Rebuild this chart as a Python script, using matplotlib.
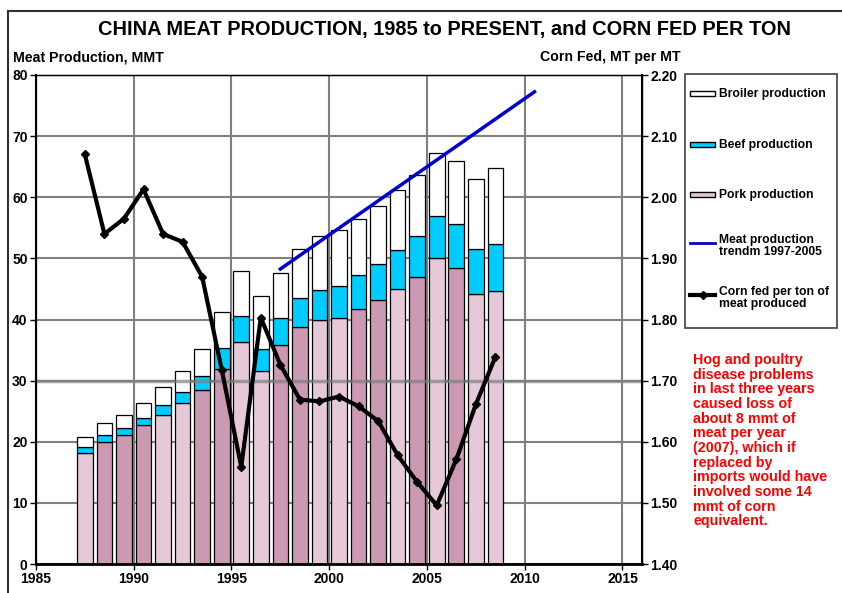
import numpy as np
import matplotlib.pyplot as plt
from matplotlib.patches import Patch, Rectangle
from matplotlib.lines import Line2D
from matplotlib.legend_handler import HandlerPatch
from matplotlib.ticker import FormatStrFormatter

plt.rcParams['font.family'] = ['Liberation Sans', 'DejaVu Sans']
plt.rcParams['font.weight'] = 'bold'

# data (MMT, and MT corn per MT meat)
years = np.arange(1987, 2009)
pork = [18.2, 20.0, 21.1, 22.7, 24.4, 26.3, 28.4, 31.9, 36.3, 31.5, 35.8,
        38.7, 40.0, 40.2, 41.7, 43.2, 45.0, 46.9, 50.0, 48.5, 44.1, 44.6]
beef = [0.9, 1.1, 1.1, 1.2, 1.6, 1.8, 2.4, 3.4, 4.2, 3.6, 4.4,
        4.8, 4.9, 5.2, 5.5, 5.8, 6.3, 6.7, 7.0, 7.1, 7.4, 7.7]
broiler = [1.6, 2.0, 2.2, 2.5, 3.0, 3.4, 4.4, 5.9, 7.5, 8.7, 7.4,
           8.1, 8.7, 9.3, 9.3, 9.5, 9.9, 10.0, 10.3, 10.4, 11.5, 12.5]
corn_fed = [2.07, 1.94, 1.965, 2.013, 1.94, 1.927, 1.87, 1.718, 1.559, 1.803, 1.726,
            1.669, 1.666, 1.674, 1.658, 1.634, 1.578, 1.534, 1.496, 1.571, 1.661, 1.739]
trend_fit = (1997, 2005)
trend_span = (1997, 2010)

note = ("Hog and poultry\ndisease problems\nin last three years\ncaused loss of\n"
        "about 8 mmt of\nmeat per year\n(2007), which if\nreplaced by\n"
        "imports would have\ninvolved some 14\nmmt of corn\nequivalent.")

# colours
c_broiler = 'white'
c_beef = '#00CCFF'
c_pork_l = '#E6C9D8'
c_pork_d = '#CC99B3'
pork_shade = 'LDDDLLDDLLDDLLDDLDLDLL'
pork_colors = [c_pork_l if s == 'L' else c_pork_d for s in pork_shade]

pork = np.array(pork)
beef = np.array(beef)
broiler = np.array(broiler)
total = pork + beef + broiler
x = years + 0.5

fig = plt.figure(figsize=(8.42, 5.93), dpi=100)
ax = fig.add_axes([36 / 842, 29 / 593, 606 / 842, 489 / 593])

ax.bar(x, pork, width=0.8, color=pork_colors, edgecolor='black', linewidth=0.9, zorder=2)
ax.bar(x, beef, width=0.8, bottom=pork, color=c_beef, edgecolor='black', linewidth=0.9, zorder=2)
ax.bar(x, broiler, width=0.8, bottom=pork + beef, color=c_broiler, edgecolor='black',
       linewidth=0.9, zorder=2)

# trend of total meat 1997-2005, extended to 2010
m = (years >= trend_fit[0]) & (years <= trend_fit[1])
coef = np.polyfit(x[m], total[m], 1)
tx = np.array(trend_span) + 0.5
ax.plot(tx, np.polyval(coef, tx), color='#0000CC', lw=2.5, zorder=4)

ax.set_xlim(1985, 2016)
ax.set_ylim(0, 80)
ax.set_xticks(range(1985, 2016, 5))
ax.set_yticks(range(0, 81, 10))
ax.set_axisbelow(True)
ax.grid(True, color='#808080', lw=1.5)
ax.axhline(30, color='#808080', lw=2.5, alpha=0.7, zorder=3)
ax.tick_params(direction='out', length=4, width=1, labelsize=10, pad=2)
for s in ax.spines.values():
    s.set_linewidth(1.0)
ax.spines['bottom'].set_linewidth(2)
ax.spines['left'].set_linewidth(1.5)

ax2 = ax.twinx()
ax2.plot(x, corn_fed, color='black', lw=3, marker='D', ms=4.5, zorder=5)
ax2.set_ylim(1.40, 2.20)
ax2.set_yticks(np.arange(1.40, 2.201, 0.10))
ax2.yaxis.set_major_formatter(FormatStrFormatter('%.2f'))
ax2.tick_params(direction='out', length=4, width=1, labelsize=10, pad=2)
ax2.spines['right'].set_linewidth(1.5)

fig.text(445 / 842, 1 - 30 / 593, 'CHINA MEAT PRODUCTION, 1985 to PRESENT, and CORN FED PER TON',
         ha='center', va='center', fontsize=14.4, fontweight='bold')
fig.text(13 / 842, 1 - 57 / 593, 'Meat Production, MMT', ha='left', va='center',
         fontsize=10.2, fontweight='bold')
fig.text(681 / 842, 1 - 57 / 593, 'Corn Fed, MT per MT', ha='right', va='center',
         fontsize=10.2, fontweight='bold')


# legend: small swatches, every row the same height so entries sit evenly
def small_swatch(legend, orig_handle, xdescent, ydescent, width, height, fontsize):
    h = 3.8
    return Rectangle((-xdescent, height / 2 - ydescent - h / 2), width, h)


handles = [Patch(facecolor=c_broiler, edgecolor='black'),
           Patch(facecolor=c_beef, edgecolor='black'),
           Patch(facecolor=c_pork_l, edgecolor='black'),
           Line2D([], [], color='#0000CC', lw=2),
           Line2D([], [], color='black', lw=3, marker='D', ms=4.5)]
labels = ['Broiler production', 'Beef production', 'Pork production',
          'Meat production\ntrendm 1997-2005', 'Corn fed per ton of\nmeat produced']
leg = fig.legend(handles, labels, loc='upper left',
                 bbox_to_anchor=(690 / 842, 1 - 82 / 593), frameon=False,
                 prop={'size': 8.7, 'weight': 'bold'}, handlelength=2.1, handleheight=2.6,
                 handletextpad=0.3, labelspacing=2.25, borderpad=0, borderaxespad=0,
                 handler_map={Patch: HandlerPatch(patch_func=small_swatch)})
for t in leg.get_texts():
    t.set_linespacing(1.03)
fig.add_artist(Rectangle((685 / 842, 1 - 328 / 593), 152 / 842, 254 / 593,
                         transform=fig.transFigure, facecolor='none',
                         edgecolor='#404040', lw=1.2))

fig.text(693 / 842, 1 - 353 / 593, note, ha='left', va='top', color='#FF0000',
         fontsize=10.3, fontweight='bold', linespacing=1.06)

# frame lines at the top and left of the picture
fig.add_artist(Line2D([8 / 842, 8 / 842], [0, 1 - 11 / 593], transform=fig.transFigure,
                      color='#303030', lw=1.5))
fig.add_artist(Line2D([8 / 842, 1], [1 - 11 / 593, 1 - 11 / 593], transform=fig.transFigure,
                      color='#303030', lw=1.5))

fig.savefig('out.png', dpi=100)
